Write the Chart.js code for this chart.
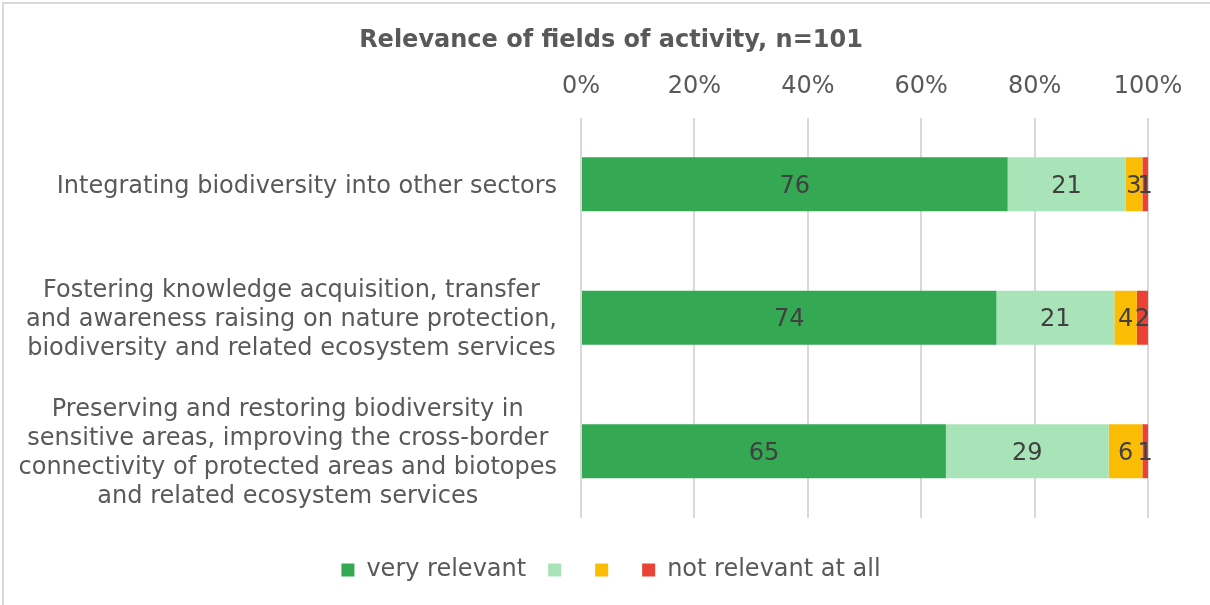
<!DOCTYPE html>
<html>
<head>
<meta charset="utf-8">
<script src="https://cdn.jsdelivr.net/npm/chart.js@4/dist/chart.umd.min.js"></script>
<style>
  html, body { margin: 0; padding: 0; background: #fff; }
  #wrap { width: 1210px; height: 605px; position: relative; }
</style>
</head>
<body>
<div id="wrap"><canvas id="myChart" width="1210" height="605"></canvas></div>
<script>
const categories = [
    ['Integrating biodiversity into other sectors'],
    ['Fostering knowledge acquisition, transfer', 'and awareness raising on nature protection,', 'biodiversity and related ecosystem services'],
    ['Preserving and restoring biodiversity in', 'sensitive areas, improving the cross-border', 'connectivity of protected areas and biotopes', 'and related ecosystem services']
];
const respondents = 101;
const veryRelevant = [76, 74, 65];
const relevant = [21, 21, 29];
const lessRelevant = [3, 4, 6];
const notRelevant = [1, 2, 1];
const tickValues = [0, 20, 40, 60, 80, 100];

const textColor = '#595959';
const fontFamily = '"DejaVu Sans", Verdana, sans-serif';
const pct = arr => arr.map(v => v / respondents * 100);

// frame lines like the Excel chart area
const framePlugin = {
    id: 'frame',
    afterDraw(chart) {
        const c = chart.ctx;
        c.save();
        c.strokeStyle = '#d9d9d9';
        c.lineWidth = 2;
        c.beginPath();
        c.moveTo(3, 605);
        c.lineTo(3, 3);
        c.lineTo(1210, 3);
        c.stroke();
        c.restore();
    }
};

// category labels: block right aligned, lines centered
const catLabels = {
    id: 'catLabels',
    afterDraw(chart) {
        const c = chart.ctx;
        const y = chart.scales.y;
        c.save();
        c.font = '24px ' + fontFamily;
        c.fillStyle = textColor;
        c.textAlign = 'center';
        c.textBaseline = 'middle';
        const right = chart.chartArea.left - 24;
        const lh = 29;
        categories.forEach((lines, i) => {
            const w = Math.max(...lines.map(l => c.measureText(l).width));
            const cx = right - w / 2;
            const cy = y.getPixelForValue(i) + 2;
            lines.forEach((l, j) => {
                c.fillText(l, cx, cy + (j - (lines.length - 1) / 2) * lh);
            });
        });
        c.restore();
    }
};

// value labels inside the segments
const valueLabels = {
    id: 'valueLabels',
    afterDatasetsDraw(chart) {
        const c = chart.ctx;
        c.save();
        c.font = '24px ' + fontFamily;
        c.fillStyle = '#404040';
        c.textAlign = 'center';
        c.textBaseline = 'middle';
        chart.data.datasets.forEach((ds, di) => {
            const meta = chart.getDatasetMeta(di);
            meta.data.forEach((bar, i) => {
                const cx = (bar.x + bar.base) / 2;
                c.fillText(String(ds.counts[i]), cx, bar.y + 2);
            });
        });
        c.restore();
    }
};

const ctx = document.getElementById('myChart').getContext('2d');

new Chart(ctx, {
    type: 'bar',
    data: {
        labels: categories,
        datasets: [
            { label: 'very relevant', data: pct(veryRelevant), counts: veryRelevant, backgroundColor: '#34a853' },
            { label: '', data: pct(relevant), counts: relevant, backgroundColor: '#a8e4b8' },
            { label: '', data: pct(lessRelevant), counts: lessRelevant, backgroundColor: '#fbbc04' },
            { label: 'not relevant at all', data: pct(notRelevant), counts: notRelevant, backgroundColor: '#ea4335' }
        ]
    },
    options: {
        indexAxis: 'y',
        responsive: false,
        animation: false,
        barPercentage: 0.405,
        categoryPercentage: 1,
        layout: { padding: { left: 12, right: 0, top: 0, bottom: 13 } },
        scales: {
            x: {
                position: 'top',
                stacked: true,
                min: 0,
                max: 100,
                afterBuildTicks(scale) {
                    scale.ticks = tickValues.map(v => ({ value: v }));
                },
                ticks: {
                    padding: 16,
                    color: textColor,
                    font: { family: fontFamily, size: 24 },
                    callback: v => v + '%'
                },
                grid: { color: '#d9d9d9', lineWidth: 2, drawTicks: false },
                border: { display: false }
            },
            y: {
                stacked: true,
                afterFit(scale) { scale.width = 569; },
                ticks: { display: false },
                grid: { display: false },
                border: { display: false }
            },
            yRight: {
                type: 'linear',
                position: 'right',
                afterFit(scale) { scale.width = 62; },
                ticks: { display: false },
                grid: { display: false },
                border: { display: false }
            }
        },
        plugins: {
            title: {
                display: true,
                text: 'Relevance of fields of activity, n=101',
                color: textColor,
                font: { family: fontFamily, size: 24, weight: 'bold' },
                padding: { top: 26, bottom: 2 }
            },
            legend: {
                position: 'bottom',
                title: { display: true, text: '', font: { size: 1, lineHeight: 1 }, padding: { top: 17, bottom: 0 } },
                labels: {
                    boxWidth: 13,
                    boxHeight: 13,
                    padding: 22,
                    color: textColor,
                    font: { family: fontFamily, size: 24 }
                }
            },
            tooltip: { enabled: false }
        }
    },
    plugins: [framePlugin, catLabels, valueLabels]
});
</script>
</body>
</html>
